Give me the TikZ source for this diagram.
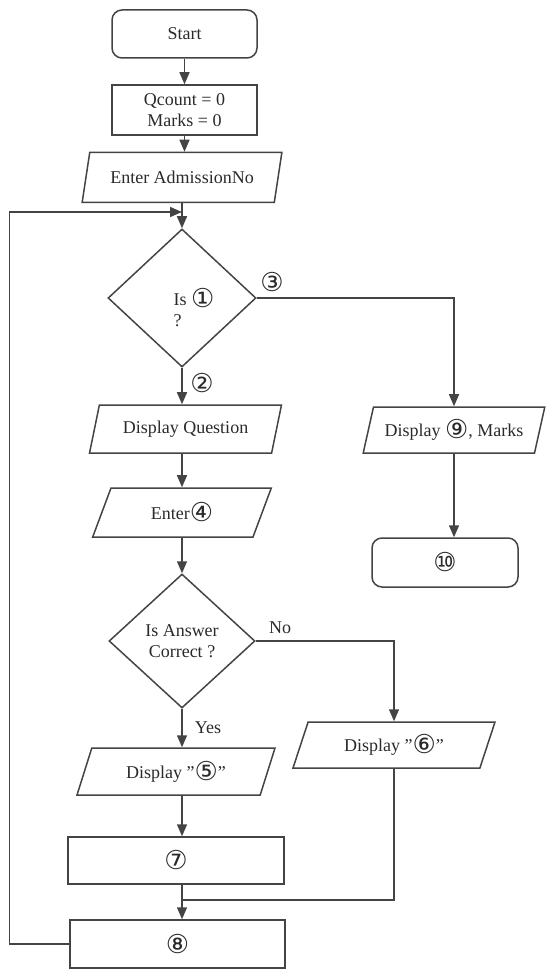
\documentclass[tikz,border=0pt]{standalone}
\usepackage{fontspec}
\setmainfont{Liberation Serif}[Ligatures={}]
\newfontfamily\symfont{DejaVu Sans}
\usetikzlibrary{shapes.geometric,arrows.meta}
\definecolor{ink}{HTML}{444444}
\definecolor{txt}{HTML}{2A2A2A}
\newcommand\cn[1]{\raisebox{-2pt}{\symfont\fontsize{26}{21}\selectfont #1}}
\newcommand\qt{\symbol{"22}}
\begin{document}
\begin{tikzpicture}[x=1pt,y=-1pt, font=\fontsize{18}{21}\selectfont, text=txt,
 base/.style={draw=ink, line width=1.5pt, inner sep=2pt, align=center},
 term/.style={base, rectangle, rounded corners=10pt},
 proc/.style={base, rectangle},
 io/.style={base, trapezium, trapezium left angle=70, trapezium right angle=110, trapezium stretches=true},
 dec/.style={base, diamond, inner sep=0pt},
 flow/.style={draw=ink, line width=1.5pt, -{Triangle[length=12pt,width=10pt]}},
 conn/.style={draw=ink, line width=1.5pt},
 lab/.style={inner sep=1pt}]
\useasboundingbox (0,0) rectangle (546,976);

\node[term, minimum width=145pt, minimum height=48pt] (start) at (184.5,34) {Start};
\node[proc, minimum width=145pt, minimum height=50pt] (init) at (184.5,110) {Qcount = 0\\Marks = 0};
\node[io, minimum width=200pt, minimum height=50pt] (adm) at (182,177.5) {Enter AdmissionNo};
\node[dec, minimum width=148pt, minimum height=138pt] (d1) at (182,298) {};
\node[lab, align=left] (d1t) at (194,308) {Is \cn{①}\\?};
\node[io, minimum width=192pt, minimum height=48pt] (dq) at (185.5,429) {Display Question};
\node[io, minimum width=180pt, minimum height=49pt] (ent) at (182,512.5) {Enter\cn{④}};
\node[dec, minimum width=146pt, minimum height=134pt] (d2) at (182,641) {Is Answer\\Correct ?};
\node[io, minimum width=198pt, minimum height=47pt] (d5) at (176,771.5) {Display \qt\cn{⑤}\qt};
\node[io, minimum width=202pt, minimum height=46pt] (d6) at (394,745) {Display \qt\cn{⑥}\qt};
\node[proc, minimum width=216pt, minimum height=47pt] (p7) at (176,860.5) {\cn{⑦}};
\node[proc, minimum width=215pt, minimum height=48pt] (p8) at (177.5,944) {\cn{⑧}};
\node[io, minimum width=182pt, minimum height=46pt] (d9) at (454,430) {Display \cn{⑨}, Marks};
\node[term, minimum width=146pt, minimum height=49pt] (p10) at (445,562.5) {\cn{⑩}};

\node[lab] (l3) at (272,282) {\cn{③}};
\node[lab] (l2) at (202,383) {\cn{②}};
\node[lab] (lno) at (280,628) {No};
\node[lab] (lyes) at (208,728) {Yes};

\coordinate (j1) at (182,212);
\coordinate (j2) at (182,900);

\draw[flow] (start.south) -- (init.north);
\draw[flow] (init.south) -- (init.south |- adm.north);
\draw[flow] (adm.south -| d1) -- (d1.north);
\draw[flow] (p8.west) -- ++(-60,0) |- (j1);
\draw[flow] (d1.south) -- (dq.north -| d1);
\draw[flow] (d1.east) -| (d9.north);
\draw[flow] (d9.south) -- (d9.south |- p10.north);
\draw[flow] (dq.south -| d1) -- (ent.north -| d1);
\draw[flow] (ent.south -| d1) -- (d2.north);
\draw[flow] (d2.east) -| (d6.north);
\draw[flow] (d2.south) -- (d5.north -| d2);
\draw[flow] (d5.south -| d2) -- (p7.north -| d2);
\draw[flow] (p7.south -| d2) -- (p8.north -| d2);
\draw[conn] (d6.south) |- (j2);
\end{tikzpicture}
\end{document}
